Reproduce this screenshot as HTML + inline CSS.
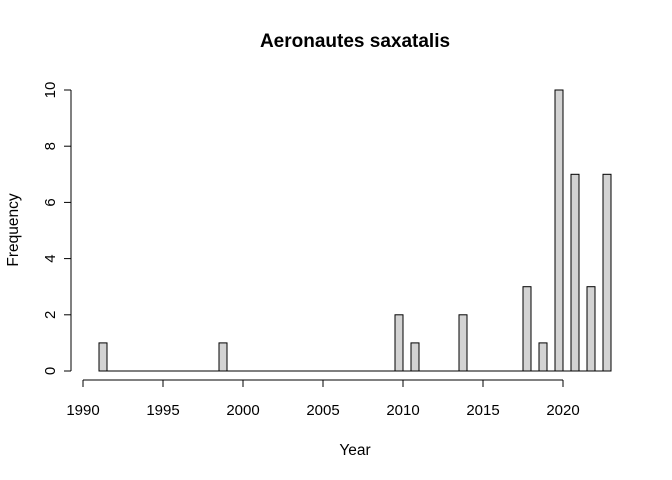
<!DOCTYPE html>
<html><head><meta charset="utf-8"><style>
body{margin:0;background:#fff;}
svg{display:block;font-family:"Liberation Sans",sans-serif;}
</style></head><body>
<svg id="chart" width="672" height="480">
<text x="355" y="47" text-anchor="middle" font-size="19" font-weight="bold">Aeronautes saxatalis</text>
<text x="355" y="455" text-anchor="middle" font-size="15.5">Year</text>
<text transform="translate(18,230) rotate(-90)" text-anchor="middle" font-size="15.5">Frequency</text>
<g id="bars"></g>
<g id="xaxis"></g>
<g id="yaxis"></g>
</svg>
<script>
const binStart = 1991, binEnd = 2023, binWidth = 0.5;
const barYears = [1991, 1998.5, 2009.5, 2010.5, 2013.5, 2017.5, 2018.5, 2019.5, 2020.5, 2021.5, 2022.5];
const barCounts = [1, 1, 2, 1, 2, 3, 1, 10, 7, 3, 7];
const xTicks = [1990, 1995, 2000, 2005, 2010, 2015, 2020];
const yTicks = [0, 2, 4, 6, 8, 10];

const NS = "http://www.w3.org/2000/svg";
const x = v => 83 + (v - 1990) * 16;
const y = v => 371 - v * 28.1;
function mk(tag, attrs, parent){const e=document.createElementNS(NS,tag);for(const k in attrs)e.setAttribute(k,attrs[k]);parent.appendChild(e);return e;}

const bars = document.getElementById('bars');
const base = mk('line', {x1: x(binStart), x2: x(binEnd), y1: y(0), y2: y(0), stroke: '#000'}, bars);


for (let s = binStart; s < binEnd - 1e-9; s += binWidth) {
  const i = barYears.findIndex(b => Math.abs(b - s) < 1e-6);
  const c = i >= 0 ? barCounts[i] : 0;
  if (c === 0) continue;
  const r = mk('rect', {x: x(s), y: y(c), width: x(s + binWidth) - x(s), height: y(0) - y(c), fill: '#d3d3d3', stroke: '#000', 'stroke-width': 1}, bars);
  
  
}

const xa = document.getElementById('xaxis');
mk('line', {x1: x(xTicks[0]), x2: x(xTicks[xTicks.length-1]), y1: 380, y2: 380, stroke: '#000'}, xa);
xTicks.forEach(t => {
  mk('line', {x1: x(t), x2: x(t), y1: 380, y2: 387, stroke: '#000'}, xa);
  const tx = mk('text', {x: x(t), y: 415, 'text-anchor': 'middle', 'font-size': 15}, xa);
  tx.textContent = t;
  
  
});

const ya = document.getElementById('yaxis');
mk('line', {x1: 71, x2: 71, y1: y(yTicks[0]), y2: y(yTicks[yTicks.length-1]), stroke: '#000'}, ya);
yTicks.forEach(t => {
  mk('line', {x1: 64, x2: 71, y1: y(t), y2: y(t), stroke: '#000'}, ya);
  const tx = mk('text', {transform: `translate(55,${y(t)}) rotate(-90)`, 'text-anchor': 'middle', 'font-size': 15}, ya);
  tx.textContent = t;
  
  
});
</script>
</body></html>
